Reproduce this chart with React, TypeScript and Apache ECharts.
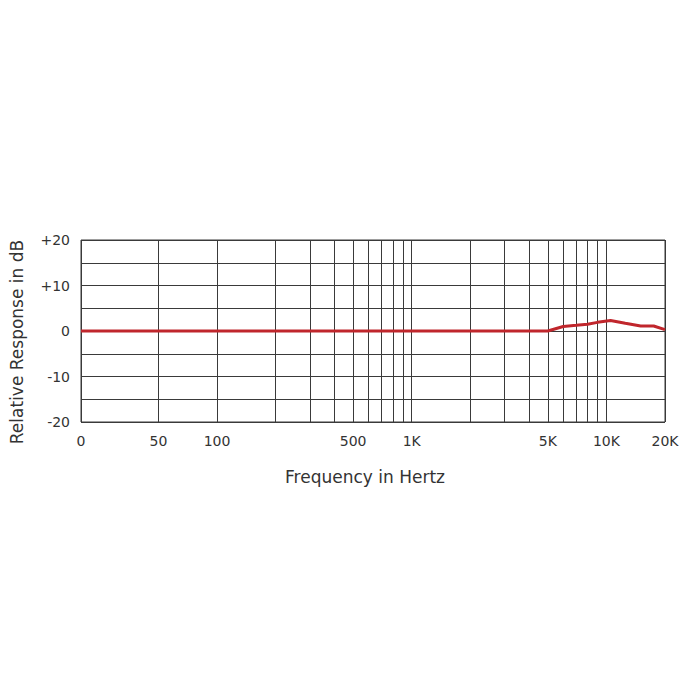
import React, { useEffect, useRef } from "react";
import * as echarts from "echarts";

const freqHz = [20, 100, 1000, 5000, 6000, 7000, 8000, 9000, 10500, 12500, 15000, 17500, 20000];
const responseDb = [0, 0, 0, 0, 1.0, 1.25, 1.5, 1.9, 2.3, 1.7, 1.1, 1.1, 0.3];

const gridFreqs = [
  20, 50, 100, 200, 300, 400, 500, 600, 700, 800, 900, 1000,
  2000, 3000, 4000, 5000, 6000, 7000, 8000, 9000, 10000, 20000,
];
const labelFreqs = [20, 50, 100, 500, 1000, 5000, 10000, 20000];
const labelTexts = ["0", "50", "100", "500", "1K", "5K", "10K", "20K"];

const yLabelValues = [-20, -10, 0, 10, 20];

const FONT = "DejaVu Sans";

export default function App() {
  const ref = useRef<HTMLDivElement>(null);
  useEffect(() => {
    document.body.style.margin = "0";
    const chart = echarts.init(ref.current!, null, { renderer: "svg" });
    const lg = (f: number) => Math.log10(f);
    chart.setOption({
      animation: false,
      backgroundColor: "#ffffff",
      grid: {
        left: 81,
        top: 240,
        width: 584,
        height: 182,
        show: true,
        borderColor: "#3a3a3a",
        borderWidth: 1,
        containLabel: false,
      },
      xAxis: {
        type: "value",
        min: lg(20),
        max: lg(20000),
        name: "Frequency in Hertz",
        nameLocation: "middle",
        nameGap: 46,
        nameTextStyle: { fontFamily: FONT, fontSize: 17, color: "#333", padding: [0, 16, 0, 0] },
        axisLine: { show: false },
        axisTick: { show: false, customValues: gridFreqs.map(lg) },
        splitLine: { show: true, lineStyle: { color: "#3a3a3a", width: 1 } },
        axisLabel: {
          customValues: labelFreqs.map(lg),
          margin: 12,
          fontFamily: FONT,
          fontSize: 14,
          color: "#333",
          formatter: (v: number) => {
            const i = labelFreqs.findIndex((f) => Math.abs(lg(f) - v) < 1e-6);
            return i >= 0 ? labelTexts[i] : "";
          },
        },
      },
      yAxis: {
        type: "value",
        min: -20,
        max: 20,
        interval: 5,
        name: "Relative Response in dB",
        nameLocation: "middle",
        nameGap: 56,
        nameTextStyle: { fontFamily: FONT, fontSize: 17, color: "#333", padding: [0, 22, 0, 0] },
        axisLine: { show: false },
        axisTick: { show: false },
        splitLine: { show: true, lineStyle: { color: "#3a3a3a", width: 1 } },
        axisLabel: {
          customValues: yLabelValues,
          margin: 11,
          fontFamily: FONT,
          fontSize: 14,
          color: "#333",
          formatter: (v: number) => (v > 0 ? "+" + v : String(v)),
        },
      },
      series: [
        {
          type: "line",
          data: freqHz.map((f, i) => [lg(f), responseDb[i]]),
          showSymbol: false,
          smooth: false,
          lineStyle: { color: "#c0262c", width: 3 },
          z: 5,
        },
      ],
    });
    return () => chart.dispose();
  }, []);
  return <div ref={ref} style={{ width: 700, height: 700 }} />;
}
